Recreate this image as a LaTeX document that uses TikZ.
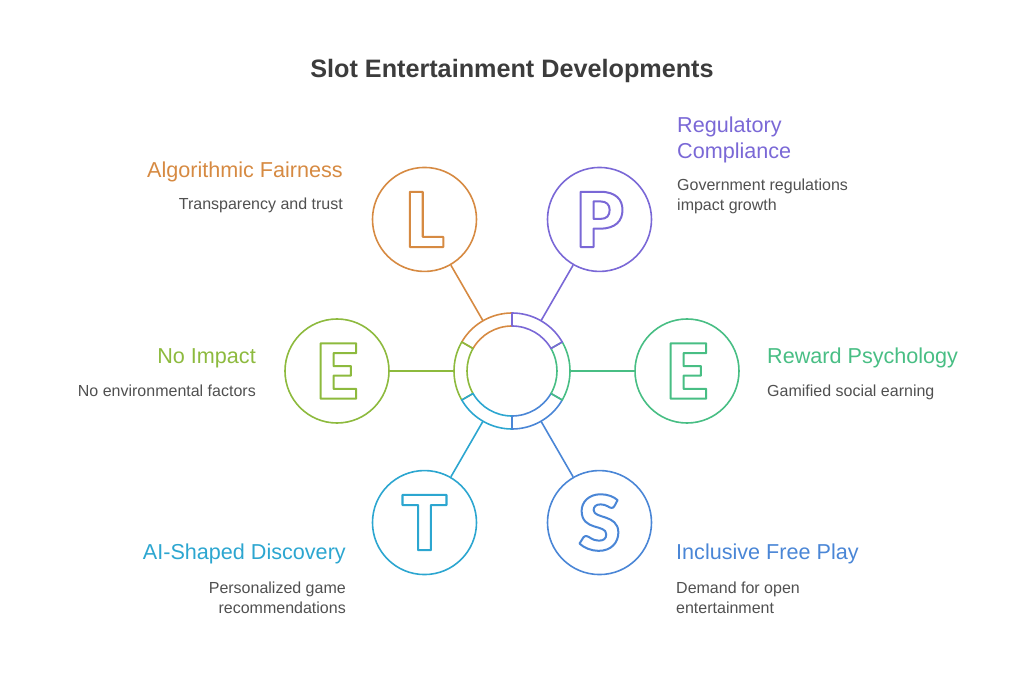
\documentclass[tikz,border=0pt]{standalone}
\usepackage{fontspec}
\setmainfont{Liberation Sans}
\IfFontExistsTF{Lato Black}{\newfontfamily\letterfont{Lato Black}}{%
  \IfFontExistsTF{Fira Sans Black}{\newfontfamily\letterfont{Fira Sans Black}}{%
    \newfontfamily\letterfont{Liberation Sans Bold}}}
\usetikzlibrary{calc}
\definecolor{cL}{RGB}{214,138,66}
\definecolor{cP}{RGB}{122,104,214}
\definecolor{cER}{RGB}{72,190,132}
\definecolor{cS}{RGB}{74,134,214}
\definecolor{cT}{RGB}{44,166,208}
\definecolor{cEL}{RGB}{141,186,62}
\definecolor{bodygray}{RGB}{80,80,80}
\definecolor{titlegray}{RGB}{60,60,60}
\newcommand\outl[1]{\special{pdf:code 1 Tr 2 w 1 j}#1\special{pdf:code 0 Tr}}
\tikzset{
  sat/.style={circle, draw=#1, line width=1.6pt, minimum size=104pt, inner sep=0pt,
              text=#1, font=\letterfont\fontsize{76}{76}\selectfont},
  conn/.style={draw=#1, line width=1.6pt},
  seg/.style={draw=#1, line width=1.6pt, line join=round},
  head/.style={text=#1, font=\fontsize{21.6}{26}\selectfont, inner sep=0pt},
  body/.style={text=bodygray, font=\fontsize{16}{20}\selectfont, inner sep=0pt},
}
\begin{document}
\begin{tikzpicture}[x=1pt,y=1pt]
\useasboundingbox (-512,-322) rectangle (512,371);
% title
\node[text=titlegray, font=\fontsize{25.2}{28}\selectfont\bfseries, anchor=north, inner sep=0pt] (title) at (0,312) {Slot Entertainment Developments};
% ring segments
\foreach \a/\b/\c in {90/150/cL, 150/210/cEL, -150/-90/cT, -90/-30/cS, -30/30/cER, 30/90/cP}{
  \draw[seg=\c] (\a:45) -- (\a:58) arc[start angle=\a, end angle=\b, radius=58] -- (\b:45) arc[start angle=\b, end angle=\a, radius=45] -- cycle;
}
% ring anchor points
\coordinate (rL) at (120:58);
\coordinate (rP) at (60:58);
\coordinate (rER) at (0:58);
\coordinate (rS) at (-60:58);
\coordinate (rT) at (-120:58);
\coordinate (rEL) at (180:58);
% satellites
\node[sat=cL] (sL) at (120:175) {\outl{L}};
\node[sat=cP] (sP) at (60:175) {\outl{P}};
\node[sat=cER] (sER) at (0:175) {\outl{E}};
\node[sat=cS] (sS) at (-60:175) {\outl{S}};
\node[sat=cT] (sT) at (-120:175) {\outl{T}};
\node[sat=cEL] (sEL) at (180:175) {\outl{E}};
% connectors
\draw[conn=cL] (rL) -- (sL);
\draw[conn=cP] (rP) -- (sP);
\draw[conn=cER] (rER) -- (sER);
\draw[conn=cS] (rS) -- (sS);
\draw[conn=cT] (rT) -- (sT);
\draw[conn=cEL] (rEL) -- (sEL);
% labels
\node[head=cL, anchor=north east, align=right] (hL) at (-169,209) {Algorithmic Fairness};
\node[body, anchor=north east, align=right] (bL) at (-169,173) {Transparency and trust};
\node[head=cP, anchor=north west, align=left] (hP) at (165,254) {Regulatory\\Compliance};
\node[body, anchor=north west, align=left] (bP) at (165,192) {Government regulations\\impact growth};
\node[head=cEL, anchor=north east, align=right] (hEL) at (-256,23) {No Impact};
\node[body, anchor=north east, align=right] (bEL) at (-256,-14) {No environmental factors};
\node[head=cER, anchor=north west, align=left] (hER) at (255,23) {Reward Psychology};
\node[body, anchor=north west, align=left] (bER) at (255,-14) {Gamified social earning};
\node[head=cT, anchor=north east, align=right] (hT) at (-166,-173) {AI-Shaped Discovery};
\node[body, anchor=north east, align=right] (bT) at (-166,-211) {Personalized game\\recommendations};
\node[head=cS, anchor=north west, align=left] (hS) at (164,-173) {Inclusive Free Play};
\node[body, anchor=north west, align=left] (bS) at (164,-211) {Demand for open\\entertainment};
\end{tikzpicture}
\end{document}
